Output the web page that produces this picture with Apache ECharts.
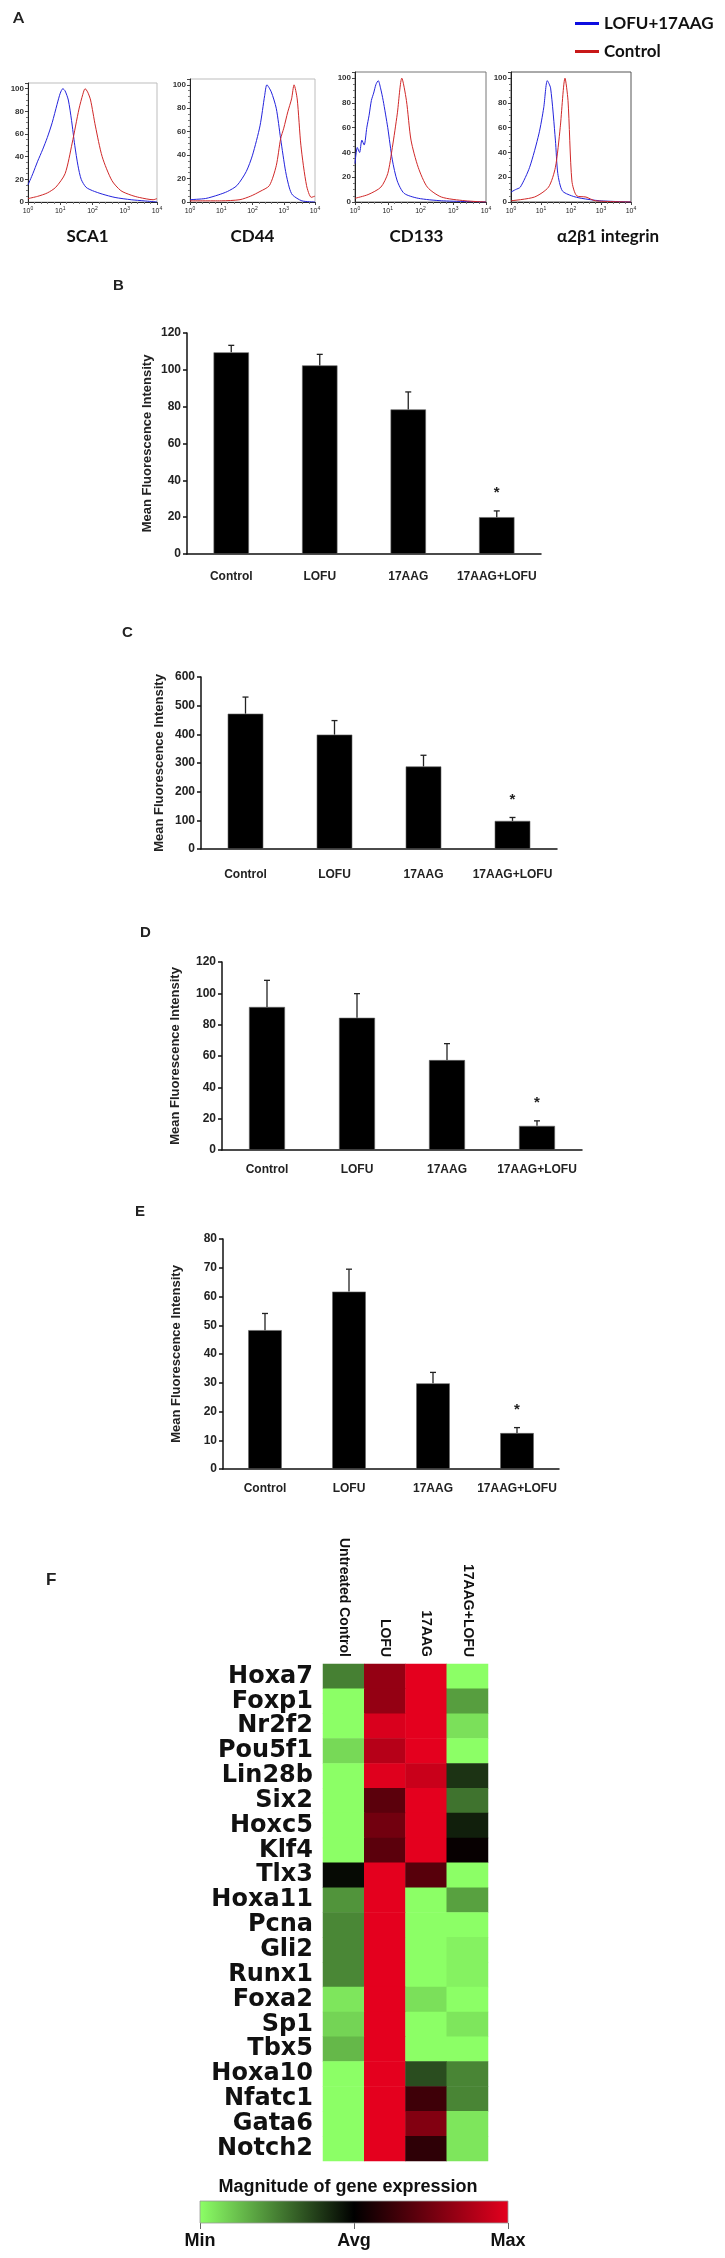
<!DOCTYPE html>
<html><head><meta charset="utf-8">
<script src="https://cdn.jsdelivr.net/npm/echarts@6/dist/echarts.min.js"></script>
<style>html,body{margin:0;padding:0;background:#fff}#c{width:725px;height:2258px}</style>
</head><body><div id="c"></div>
<script>
// ---------- Panel A : flow-cytometry histograms ([log10 intensity, % of max]) ----------
const histMarkers = ['SCA1', 'CD44', 'CD133', 'α2β1 integrin'];
const histSeriesNames = ['LOFU+17AAG', 'Control'];
const sca1Lofu = [[0,15],[0.15,25],[0.3,36],[0.45,46],[0.6,57],[0.75,70],[0.9,86],[1.0,96],[1.08,100],[1.15,98],[1.25,90],[1.35,72],[1.45,50],[1.55,32],[1.65,20],[1.8,13],[2.0,10],[2.3,7],[2.7,4],[3.2,2],[3.6,1],[4,0]];
const sca1Ctrl = [[0,3],[0.3,5],[0.6,8],[0.86,13],[1.15,25],[1.37,52],[1.58,82],[1.7,95],[1.77,100],[1.85,97],[1.94,90],[2.09,67],[2.3,40],[2.6,19],[2.88,10],[3.2,6],[3.45,4],[3.88,2],[4,3]];
const cd44Lofu = [[0,2],[0.5,3],[0.9,6],[1.2,9],[1.5,14],[1.8,26],[2.0,40],[2.24,65],[2.39,91],[2.46,100],[2.6,94],[2.76,80],[2.9,54],[3.06,26],[3.18,12],[3.28,6],[3.58,1],[4,0]];
const cd44Ctrl = [[0,1],[1.0,1],[1.6,2],[1.94,5],[2.24,9],[2.54,14],[2.76,31],[2.9,54],[3.0,63],[3.13,77],[3.25,88],[3.33,100],[3.43,88],[3.55,48],[3.73,14],[3.88,4],[4,5]];
const cd133Lofu = [[0,31],[0.07,44],[0.14,40],[0.21,50],[0.28,46],[0.36,60],[0.43,70],[0.5,82],[0.57,88],[0.64,95],[0.71,98],[0.78,92],[0.86,82],[1.0,60],[1.14,34],[1.29,17],[1.5,7],[1.93,3],[2.64,1],[4,0]];
const cd133Ctrl = [[0,3],[0.4,6],[0.79,12],[1.0,23],[1.14,44],[1.29,71],[1.43,100],[1.57,82],[1.71,50],[1.93,28],[2.21,12],[2.64,4],[3.36,1],[4,0]];
const itgLofu = [[0,8],[0.15,10],[0.31,12],[0.62,28],[0.93,55],[1.09,76],[1.21,98],[1.32,92],[1.48,50],[1.56,23],[1.71,9],[2.02,5],[2.34,3],[2.96,1],[4,0]];
const itgCtrl = [[0,1],[0.78,4],[1.25,12],[1.48,28],[1.64,60],[1.8,100],[1.9,82],[2.03,17],[2.19,5],[2.5,4],[2.81,1],[4,0]];

// ---------- Panels B–E : mean fluorescence intensity ----------
const groups = ['Control', 'LOFU', '17AAG', '17AAG+LOFU'];
const mfiB = [109.5, 102.4, 78.5, 20.0];
const errB = [3.8, 6.0, 9.5, 3.4];
const mfiC = [472, 399, 288, 98];
const errC = [58, 49, 39, 12];
const mfiD = [91.3, 84.4, 57.4, 15.4];
const errD = [17.0, 15.4, 10.5, 3.2];
const mfiE = [48.3, 61.7, 29.8, 12.5];
const errE = [5.8, 7.8, 3.8, 1.9];
const sigFlags = ['', '', '', '*'];
const yTitle = 'Mean Fluorescence Intensity';

// ---------- Panel F : heat map (-1 = min, 0 = avg, 1 = max) ----------
const conditions = ['Untreated Control', 'LOFU', '17AAG', '17AAG+LOFU'];
const genes = ['Hoxa7','Foxp1','Nr2f2','Pou5f1','Lin28b','Six2','Hoxc5','Klf4','Tlx3','Hoxa11','Pcna','Gli2','Runx1','Foxa2','Sp1','Tbx5','Hoxa10','Nfatc1','Gata6','Notch2'];
const expr = [
  [-0.5, 0.65, 1, -1],
  [-1, 0.65, 1, -0.62],
  [-1, 0.95, 1, -0.88],
  [-0.85, 0.8, 1, -1],
  [-1, 0.98, 0.88, -0.2],
  [-1, 0.4, 1, -0.45],
  [-1, 0.5, 1, -0.12],
  [-1, 0.4, 1, 0.03],
  [-0.04, 1, 0.38, -1],
  [-0.58, 1, -1, -0.63],
  [-0.53, 1, -1, -1],
  [-0.53, 1, -1, -0.95],
  [-0.53, 1, -1, -0.95],
  [-0.9, 1, -0.88, -1],
  [-0.83, 1, -1, -0.9],
  [-0.72, 1, -1, -1],
  [-1, 1, -0.3, -0.52],
  [-1, 1, 0.27, -0.52],
  [-1, 1, 0.57, -0.9],
  [-1, 1, 0.2, -0.9]
];
const scaleLabels = ['Min', 'Avg', 'Max'];
const scaleTitle = 'Magnitude of gene expression';
const heatColors = ['#8cff66', '#000000', '#e4001e'];

// ================= build =================
const chart = echarts.init(document.getElementById('c'), null, {renderer: 'canvas'});
const grid = [], xAxis = [], yAxis = [], series = [];
const BLUE = '#2323dc', RED = '#d02828';
const SANS = 'Liberation Sans, Arial, sans-serif';

const histData = [[sca1Lofu, sca1Ctrl], [cd44Lofu, cd44Ctrl], [cd133Lofu, cd133Ctrl], [itgLofu, itgCtrl]];
const histLayout = [
  {box: [28, 83, 129, 119], border: '#bdbdbd', shift: -10},
  {box: [190, 79, 125, 123], border: '#bdbdbd', shift: 0},
  {box: [355, 72, 131, 130], border: '#777', shift: -8},
  {box: [511, 72, 120, 130], border: '#555', shift: 74}
];
histLayout.forEach((h, k) => {
  const gi = grid.length;
  grid.push({left: h.box[0], top: h.box[1], width: h.box[2], height: h.box[3], show: true, borderColor: h.border, borderWidth: 1});
  xAxis.push({gridIndex: gi, type: 'value', min: 0, max: 4, interval: 1,
    name: histMarkers[k], nameLocation: 'middle', nameGap: 26,
    nameTextStyle: {fontFamily: 'Lato, sans-serif', fontWeight: 'bold', fontSize: 17, color: '#111', padding: [0, 0, 0, h.shift]},
    axisLine: {lineStyle: {color: '#222'}}, axisTick: {length: 3, lineStyle: {color: '#444'}},
    minorTick: {show: true, splitNumber: 5, length: 2, lineStyle: {color: '#777'}},
    splitLine: {show: false},
    axisLabel: {margin: 4, formatter: v => '{b|10}{s|' + v + '}',
      rich: {b: {fontSize: 7, fontFamily: SANS, color: '#222'}, s: {fontSize: 5, fontFamily: SANS, color: '#222', verticalAlign: 'top', padding: [0, 0, 5, 0]}}}
  });
  yAxis.push({gridIndex: gi, type: 'value', min: 0, max: 105, interval: 20,
    axisLine: {show: true, lineStyle: {color: '#222'}}, axisTick: {show: true, length: 3, lineStyle: {color: '#444'}},
    minorTick: {show: true, splitNumber: 4, length: 2, lineStyle: {color: '#777'}},
    splitLine: {show: false},
    axisLabel: {margin: 4, fontSize: 8, fontWeight: 'bold', fontFamily: SANS, color: '#333', formatter: v => (v % 20 === 0 ? v : '')}
  });
  [0, 1].forEach(j => {
    series.push({type: 'line', name: histSeriesNames[j], xAxisIndex: gi, yAxisIndex: gi,
      data: histData[k][j], showSymbol: false, smooth: 0.25,
      lineStyle: {width: 1, color: j === 0 ? BLUE : RED}, itemStyle: {color: j === 0 ? '#0d0de0' : '#c81818'}, z: 3});
  });
});

const barPanels = [
  {vals: mfiB, errs: errB, max: 120, interval: 20, box: [187, 333, 354, 221], gap: 33, lm: 17},
  {vals: mfiC, errs: errC, max: 600, interval: 100, box: [201, 677, 356, 172], gap: 35, lm: 20},
  {vals: mfiD, errs: errD, max: 120, interval: 20, box: [222, 962, 360, 188], gap: 40, lm: 14},
  {vals: mfiE, errs: errE, max: 80, interval: 10, box: [223, 1239, 336, 230], gap: 40, lm: 14}
];
function errItem(params, api) {
  const i = api.value(0), v = api.value(1), e = api.value(2);
  const p0 = api.coord([i, v]), p1 = api.coord([i, v + e]);
  const cap = 3;
  const ch = [
    {type: 'line', shape: {x1: p0[0], y1: p0[1], x2: p1[0], y2: p1[1]}, style: {stroke: '#222', lineWidth: 1.3}},
    {type: 'line', shape: {x1: p1[0] - cap, y1: p1[1], x2: p1[0] + cap, y2: p1[1]}, style: {stroke: '#222', lineWidth: 1.3}}
  ];
  const s = sigFlags[params.dataIndex];
  if (s) ch.push({type: 'text', style: {text: s, x: p1[0], y: p1[1] - 18, align: 'center', verticalAlign: 'middle', font: 'bold 15px ' + SANS, fill: '#222'}});
  return {type: 'group', children: ch};
}
barPanels.forEach(p => {
  const gi = grid.length;
  grid.push({left: p.box[0], top: p.box[1], width: p.box[2], height: p.box[3]});
  xAxis.push({gridIndex: gi, type: 'category', data: groups,
    axisLine: {lineStyle: {color: '#111', width: 1.5}}, axisTick: {length: 4, lineStyle: {color: '#111', width: 1.5}},
    axisLabel: {interval: 0, margin: p.lm, fontSize: 12, fontWeight: 'bold', fontFamily: SANS, color: '#222'}});
  yAxis.push({gridIndex: gi, type: 'value', min: 0, max: p.max, interval: p.interval,
    name: yTitle, nameLocation: 'middle', nameGap: p.gap,
    nameTextStyle: {fontSize: 13, fontWeight: 'bold', fontFamily: SANS, color: '#222'},
    axisLine: {show: true, lineStyle: {color: '#111', width: 1.5}}, axisTick: {show: true, length: 4, lineStyle: {color: '#111', width: 1.5}},
    splitLine: {show: false},
    axisLabel: {margin: 6, fontSize: 12, fontWeight: 'bold', fontFamily: SANS, color: '#222'}});
  series.push({type: 'bar', xAxisIndex: gi, yAxisIndex: gi, data: p.vals, barWidth: '40%',
    itemStyle: {color: '#000', borderColor: '#666', borderWidth: 0.6}});
  series.push({type: 'custom', xAxisIndex: gi, yAxisIndex: gi, renderItem: errItem,
    data: p.vals.map((v, i) => [i, v, p.errs[i]]), z: 5});
});

// heat map
const hg = grid.length;
grid.push({left: 323, top: 1664, width: 165, height: 497});
xAxis.push({gridIndex: hg, type: 'category', data: conditions, position: 'top',
  axisLine: {show: false}, axisTick: {show: false}, splitLine: {show: false},
  axisLabel: {interval: 0, rotate: 90, margin: 7, fontSize: 14, fontWeight: 'bold', fontFamily: SANS, color: '#111'}});
yAxis.push({gridIndex: hg, type: 'category', data: genes, inverse: true,
  axisLine: {show: false}, axisTick: {show: false}, splitLine: {show: false},
  axisLabel: {interval: 0, margin: 10, fontSize: 24, fontWeight: 'bold', fontFamily: 'DejaVu Sans, sans-serif', color: '#111'}});
const heatData = [];
expr.forEach((row, gIdx) => row.forEach((v, cIdx) => heatData.push([cIdx, gIdx, v])));
const heatSeriesIndex = series.length;
series.push({type: 'heatmap', xAxisIndex: hg, yAxisIndex: hg, data: heatData, itemStyle: {borderWidth: 0}});

// colour scale bar
const cg = grid.length;
grid.push({left: 200, top: 2201, width: 308, height: 22});
xAxis.push({gridIndex: cg, type: 'value', min: -1, max: 1, interval: 1,
  axisLine: {show: false}, axisTick: {show: true, length: 6, lineStyle: {color: '#666'}}, splitLine: {show: false},
  axisLabel: {margin: 9, fontSize: 18, fontWeight: 'bold', fontFamily: SANS, color: '#111',
    formatter: v => scaleLabels[Math.round(v) + 1]}});
yAxis.push({gridIndex: cg, type: 'value', min: 0, max: 1, show: false});
series.push({type: 'custom', xAxisIndex: cg, yAxisIndex: cg, data: [[-1, 0, 1, 1]],
  renderItem: (params, api) => {
    const a = api.coord([api.value(0), api.value(1)]), b = api.coord([api.value(2), api.value(3)]);
    return {type: 'rect', shape: {x: a[0], y: b[1], width: b[0] - a[0], height: a[1] - b[1]},
      style: {fill: new echarts.graphic.LinearGradient(0, 0, 1, 0,
        heatColors.map((c, i) => ({offset: i / (heatColors.length - 1), color: c}))), stroke: '#999', lineWidth: 0.8}};
  }});

const letter = (t, x, y, font) => ({type: 'text', left: x, top: y, style: {text: t, font: font || ('bold 15px ' + SANS), fill: '#222'}});

chart.setOption({
  backgroundColor: '#fff',
  animation: false,
  legend: {data: histSeriesNames, orient: 'vertical', left: 570, top: 10, itemGap: 11, itemWidth: 24, itemHeight: 3,
    icon: 'rect', textStyle: {fontFamily: 'Lato, sans-serif', fontWeight: 'bold', fontSize: 17, color: '#111'}},
  visualMap: {type: 'continuous', show: false, min: -1, max: 1, seriesIndex: heatSeriesIndex, inRange: {color: heatColors}},
  grid, xAxis, yAxis, series,
  graphic: [
    letter('A', 13, 10, 'bold 16px Lato, sans-serif'),
    letter('B', 113, 278), letter('C', 122, 625), letter('D', 140, 925), letter('E', 135, 1204),
    letter('F', 46, 1572, 'bold 17px ' + SANS),
    {type: 'text', x: 348, y: 2187, style: {text: scaleTitle, font: 'bold 18px ' + SANS, fill: '#111', align: 'center', verticalAlign: 'middle'}}
  ]
});
</script></body></html>
